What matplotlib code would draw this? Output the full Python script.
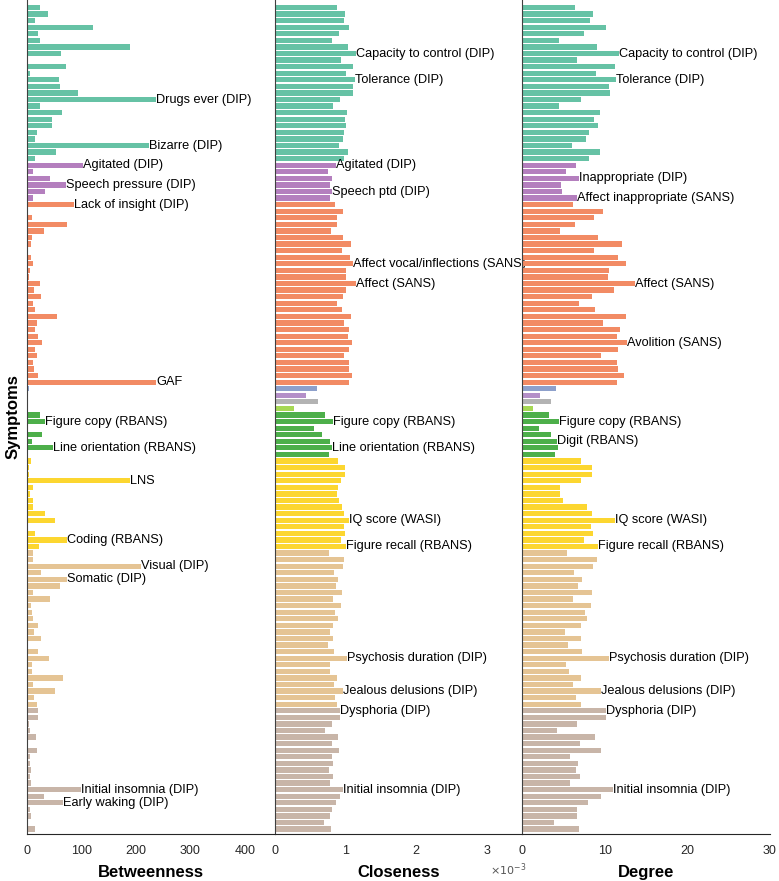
import numpy as np
import matplotlib.pyplot as plt

plt.rcParams['font.family'] = ['Liberation Sans', 'DejaVu Sans']

# one value per symptom, top to bottom (126 symptoms)
betweenness = [23, 39, 14.5, 121, 20, 24, 189, 62, 0, 72, 5.5, 58, 60, 94, 237, 23, 64, 46,
               45, 18, 14, 223, 53, 15, 102, 11, 42, 71, 33, 11, 85, 0, 9, 73, 31, 9,
               7, 2, 7, 11, 5.5, 3.6, 24, 12, 26, 11, 15, 55, 18, 15, 19, 27, 15, 18,
               10, 12, 19, 237, 3.6, 0, 0, 0, 24, 32, 0, 27, 8, 48, 1, 6, 2.7, 2.7,
               188, 10, 4.5, 10, 10, 32, 51, 2, 13.6, 73, 22, 10, 11, 209, 26, 73, 61, 10,
               41, 7, 9, 10, 20, 13, 25, 2, 19, 40, 9, 9, 66, 10, 51, 12, 18, 19,
               19, 3.6, 5.5, 16, 2, 17, 5.5, 4.5, 6.4, 4.5, 6.4, 98, 31, 65, 5.5, 7, 0, 14.5]

closeness = [0.875, 0.988, 0.974, 1.044, 0.910, 0.812, 1.037, 1.143, 0.932, 1.108, 1.002, 1.129,
             1.108, 1.108, 0.917, 0.826, 1.023, 0.995, 1.009, 0.981, 0.960, 0.910, 1.030, 0.974,
             0.861, 0.748, 0.812, 0.776, 0.812, 0.783, 0.847, 0.967, 0.882, 0.875, 0.790, 0.967,
             1.073, 0.946, 1.066, 1.101, 1.009, 1.009, 1.150, 1.009, 0.960, 0.882, 0.953, 1.073,
             0.981, 1.052, 1.030, 1.087, 1.044, 0.981, 1.044, 1.052, 1.087, 1.052, 0.593, 0.438,
             0.607, 0.275, 0.713, 0.819, 0.558, 0.670, 0.776, 0.812, 0.762, 0.889, 0.988, 0.988,
             0.932, 0.896, 0.875, 0.903, 0.953, 0.981, 1.044, 0.981, 0.988, 0.939, 1.009, 0.762,
             0.974, 0.967, 0.840, 0.889, 0.861, 0.953, 0.826, 0.939, 0.854, 0.896, 0.826, 0.776,
             0.826, 0.748, 0.840, 1.016, 0.783, 0.776, 0.882, 0.840, 0.967, 0.854, 0.882, 0.924,
             0.924, 0.812, 0.713, 0.889, 0.812, 0.903, 0.805, 0.826, 0.769, 0.826, 0.776, 0.960,
             0.924, 0.861, 0.812, 0.783, 0.699, 0.790]  # x 10^-3

degree = [6.35, 8.53, 8.23, 10.1, 7.44, 4.42, 9.01, 11.74, 6.65, 11.19, 8.95, 11.37,
          10.53, 10.65, 7.08, 4.48, 9.44, 8.65, 9.13, 8.11, 7.68, 5.99, 9.44, 8.11,
          6.47, 5.26, 6.84, 4.66, 4.78, 6.65, 6.17, 9.8, 8.71, 6.35, 4.54, 9.2,
          12.04, 8.65, 11.6, 12.52, 10.53, 10.4, 13.67, 11.13, 8.41, 6.84, 8.83, 12.52,
          9.8, 11.8, 11.43, 12.64, 11.6, 9.56, 11.49, 11.55, 12.34, 11.43, 4.11, 2.12,
          3.51, 1.33, 3.21, 4.48, 2.0, 3.45, 4.23, 4.3, 4.0, 7.14, 8.41, 8.41,
          7.08, 4.54, 4.54, 4.9, 7.8, 8.41, 11.25, 8.35, 8.53, 7.5, 9.13, 5.38,
          9.01, 8.59, 6.29, 7.2, 6.72, 8.47, 6.17, 8.29, 7.62, 7.8, 7.08, 5.14,
          7.08, 5.57, 7.2, 10.47, 5.32, 5.63, 7.14, 6.17, 9.5, 6.47, 7.08, 10.1,
          10.1, 6.6, 4.17, 8.83, 7.02, 9.56, 5.81, 6.72, 6.47, 6.96, 5.81, 10.95,
          9.5, 7.99, 6.6, 6.6, 3.87, 6.84]

# symptom groups, top to bottom: size of each group
group_sizes = [24, 6, 28, 1, 1, 1, 1, 7, 14, 24, 19]
group_colors = ['#66c2a5', '#b47fbe', '#f28b64', '#8da0cb', '#b48fc8', '#b3b3b3',
                '#a6d854', '#4daf4a', '#fcd630', '#e5c494', '#c8b5a8']

# labelled symptoms: (row, text)
labels_betw = [(14, 'Drugs ever (DIP)'), (21, 'Bizarre (DIP)'), (24, 'Agitated (DIP)'),
               (27, 'Speech pressure (DIP)'), (30, 'Lack of insight (DIP)'), (57, 'GAF'),
               (63, 'Figure copy (RBANS)'), (67, 'Line orientation (RBANS)'), (72, 'LNS'),
               (81, 'Coding (RBANS)'), (85, 'Visual (DIP)'), (87, 'Somatic (DIP)'),
               (119, 'Initial insomnia (DIP)'), (121, 'Early waking (DIP)')]
labels_clos = [(7, 'Capacity to control (DIP)'), (11, 'Tolerance (DIP)'), (24, 'Agitated (DIP)'),
               (28, 'Speech ptd (DIP)'), (39, 'Affect vocal/inflections (SANS)'),
               (42, 'Affect (SANS)'), (63, 'Figure copy (RBANS)'),
               (67, 'Line orientation (RBANS)'), (78, 'IQ score (WASI)'),
               (82, 'Figure recall (RBANS)'), (99, 'Psychosis duration (DIP)'),
               (104, 'Jealous delusions (DIP)'), (107, 'Dysphoria (DIP)'),
               (119, 'Initial insomnia (DIP)')]
labels_deg = [(7, 'Capacity to control (DIP)'), (11, 'Tolerance (DIP)'),
              (26, 'Inappropriate (DIP)'), (29, 'Affect inappropriate (SANS)'),
              (42, 'Affect (SANS)'), (51, 'Avolition (SANS)'), (63, 'Figure copy (RBANS)'),
              (66, 'Digit (RBANS)'), (78, 'IQ score (WASI)'), (82, 'Figure recall (RBANS)'),
              (99, 'Psychosis duration (DIP)'), (104, 'Jealous delusions (DIP)'),
              (107, 'Dysphoria (DIP)'), (119, 'Initial insomnia (DIP)')]

colors = []
for n, c in zip(group_sizes, group_colors):
    colors += [c] * n
rows = np.arange(len(betweenness))

fig = plt.figure(figsize=(7.79, 8.81), dpi=100)
panels = [
    (betweenness, labels_betw, 'Betweenness', (0, 455), [0, 100, 200, 300, 400]),
    (closeness, labels_clos, 'Closeness', (0, 3.5), [0, 1, 2, 3]),
    (degree, labels_deg, 'Degree', (0, 30), [0, 10, 20, 30]),
]
x0, w = 0.035, 0.3178
for k, (vals, labs, name, xl, ticks) in enumerate(panels):
    ax = fig.add_axes([x0 + k * w, 0.0537, w, 0.946])
    ax.patch.set_alpha(0)
    ax.barh(rows, vals, height=0.8, color=colors)
    for r, t in labs:
        ax.text(vals[r], r, t, ha='left', va='center', fontsize=9.2, color='black',
                clip_on=False, zorder=5)
    ax.set_xlim(*xl)
    ax.set_ylim(125.7, -1.1)
    ax.set_xticks(ticks)
    ax.set_yticks([])
    ax.tick_params(axis='x', length=0, labelsize=9, labelcolor='#262626', pad=8)
    ax.spines['top'].set_visible(False)
    ax.spines['right'].set_visible(False)
    ax.spines['left'].set_color('#404040')
    ax.spines['bottom'].set_color('#262626')
    ax.set_xlabel(name, fontsize=12, fontweight='bold', labelpad=6)
    if k == 0:
        ax.set_ylabel('Symptoms', fontsize=12, fontweight='bold', labelpad=5)

fig.text(0.629, 0.007, r'$\times10^{-3}$', fontsize=8, color='#555555')

fig.savefig('out.png', dpi=100)
